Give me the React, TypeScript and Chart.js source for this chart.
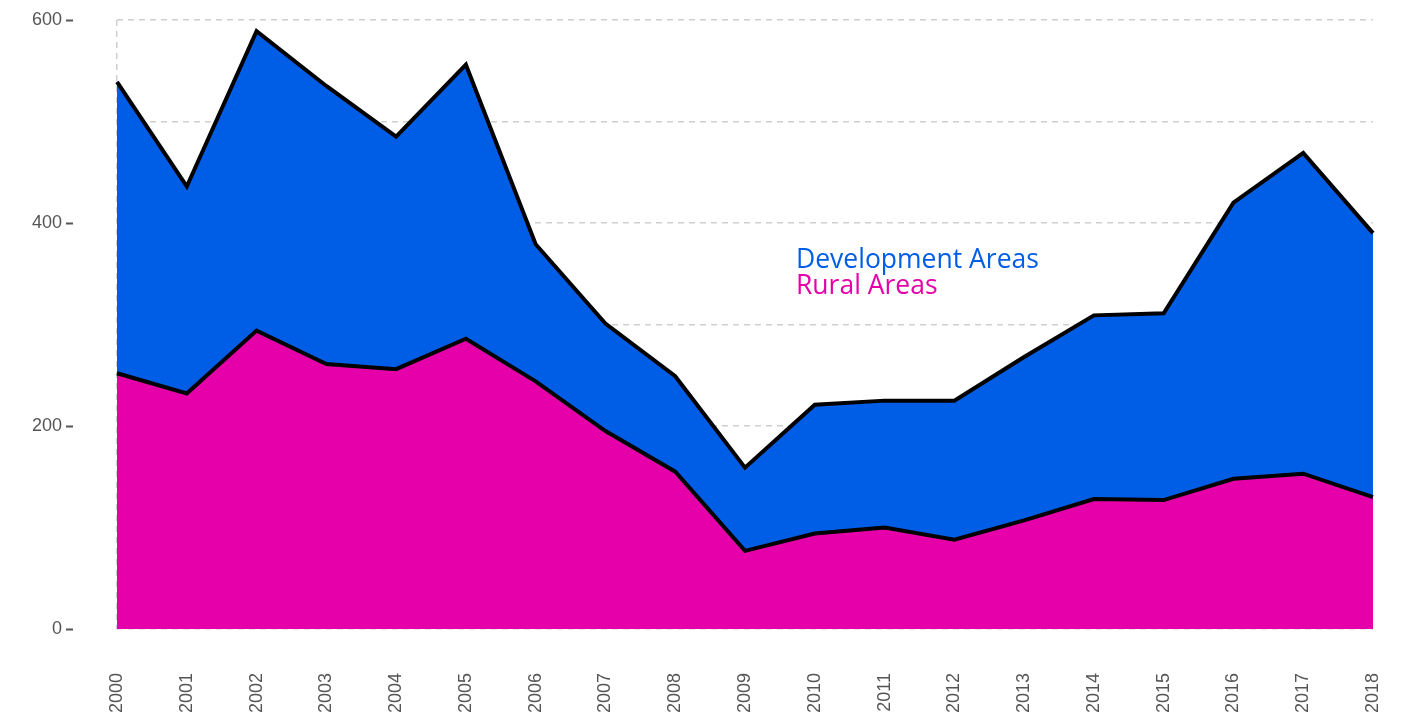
import React, { useEffect, useRef } from "react";
import { Chart, registerables } from "chart.js";

Chart.register(...registerables);

const years = ["2000","2001","2002","2003","2004","2005","2006","2007","2008","2009","2010","2011","2012","2013","2014","2015","2016","2017","2018"];
const ruralAreas = [252, 232, 294, 261, 256, 286, 244, 195, 155, 77, 94, 100, 88, 107, 128, 127, 148, 153, 130];
const developmentAreas = [287, 204, 295, 274, 229, 270, 135, 106, 94, 82, 127, 125, 137, 161, 181, 184, 272, 316, 260];
const yTickLabels = [0, 200, 400, 600];

const BLUE = "#005DE6";
const MAGENTA = "#E600A9";
const GRID = "#cfcfcf";
const TICK_TEXT = "#555555";

const tickMarks = {
  id: "tickMarks",
  afterDraw(chart: any) {
    const y = chart.scales.y;
    const ctx = chart.ctx;
    ctx.save();
    ctx.strokeStyle = "#555";
    ctx.lineWidth = 2;
    for (const v of yTickLabels) {
      const py = Math.round(y.getPixelForValue(v)) + 0.5;
      ctx.beginPath();
      ctx.moveTo(66, py);
      ctx.lineTo(73, py);
      ctx.stroke();
    }
    ctx.restore();
  },
};

const zeroPad = (s: any) => {
  s.paddingLeft = 0;
  s.paddingRight = 0;
  s.paddingTop = 0;
  s.paddingBottom = 0;
};

export default function App() {
  const ref = useRef<HTMLCanvasElement | null>(null);
  useEffect(() => {
    if (!ref.current) return;
    const chart = new Chart(ref.current, {
      type: "line",
      data: {
        labels: years,
        datasets: [
          {
            label: "Rural Areas",
            data: ruralAreas,
            backgroundColor: MAGENTA,
            borderColor: "#000",
            borderWidth: 4,
            fill: "origin",
            pointRadius: 0,
            tension: 0,
          },
          {
            label: "Development Areas",
            data: developmentAreas,
            backgroundColor: BLUE,
            borderColor: "#000",
            borderWidth: 4,
            fill: "-1",
            pointRadius: 0,
            tension: 0,
          },
        ],
      },
      options: {
        animation: false,
        responsive: false,
        maintainAspectRatio: false,
        layout: { padding: { top: 20, right: 32, left: 0, bottom: 0 } },
        plugins: { legend: { display: false }, tooltip: { enabled: false } },
        scales: {
          x: {
            type: "category",
            offset: false,
            border: { display: false, dash: [6, 5] },
            grid: {
              drawTicks: false,
              color: (c: any) => (c.index === 0 ? GRID : "rgba(0,0,0,0)"),
              lineWidth: 1.5,
            },
            ticks: {
              autoSkip: false,
              minRotation: 90,
              maxRotation: 90,
              padding: 44,
              color: TICK_TEXT,
              font: { family: "'Liberation Sans', Arial, sans-serif", size: 18 },
            },
            afterFit: (s: any) => {
              s.height = 87;
              zeroPad(s);
            },
          },
          y: {
            stacked: true,
            min: 0,
            max: 600,
            border: { display: false, dash: [6, 5] },
            grid: {
              drawTicks: false,
              color: GRID,
              lineWidth: 1.5,
            },
            ticks: {
              stepSize: 100,
              padding: 55,
              color: TICK_TEXT,
              font: { family: "'Liberation Sans', Arial, sans-serif", size: 18 },
              callback: (v: any) => (Number(v) % 200 === 0 ? String(v) : ""),
            },
            afterFit: (s: any) => {
              s.width = 117;
              zeroPad(s);
            },
          },
        },
      },
      plugins: [tickMarks],
    });
    return () => chart.destroy();
  }, []);

  return (
    <div style={{ position: "fixed", left: 0, top: 0, width: 1405, height: 716, background: "#fff" }}>
      <canvas ref={ref} width={1405} height={716} style={{ display: "block" }} />
      <div
        style={{
          position: "absolute",
          left: 796,
          top: 245,
          fontFamily: "'Open Sans', 'Noto Sans', sans-serif",
          fontSize: 26.5,
          lineHeight: "26px",
          whiteSpace: "nowrap",
        }}
      >
        <div style={{ color: BLUE }}>Development Areas</div>
        <div style={{ color: MAGENTA }}>Rural Areas</div>
      </div>
    </div>
  );
}
